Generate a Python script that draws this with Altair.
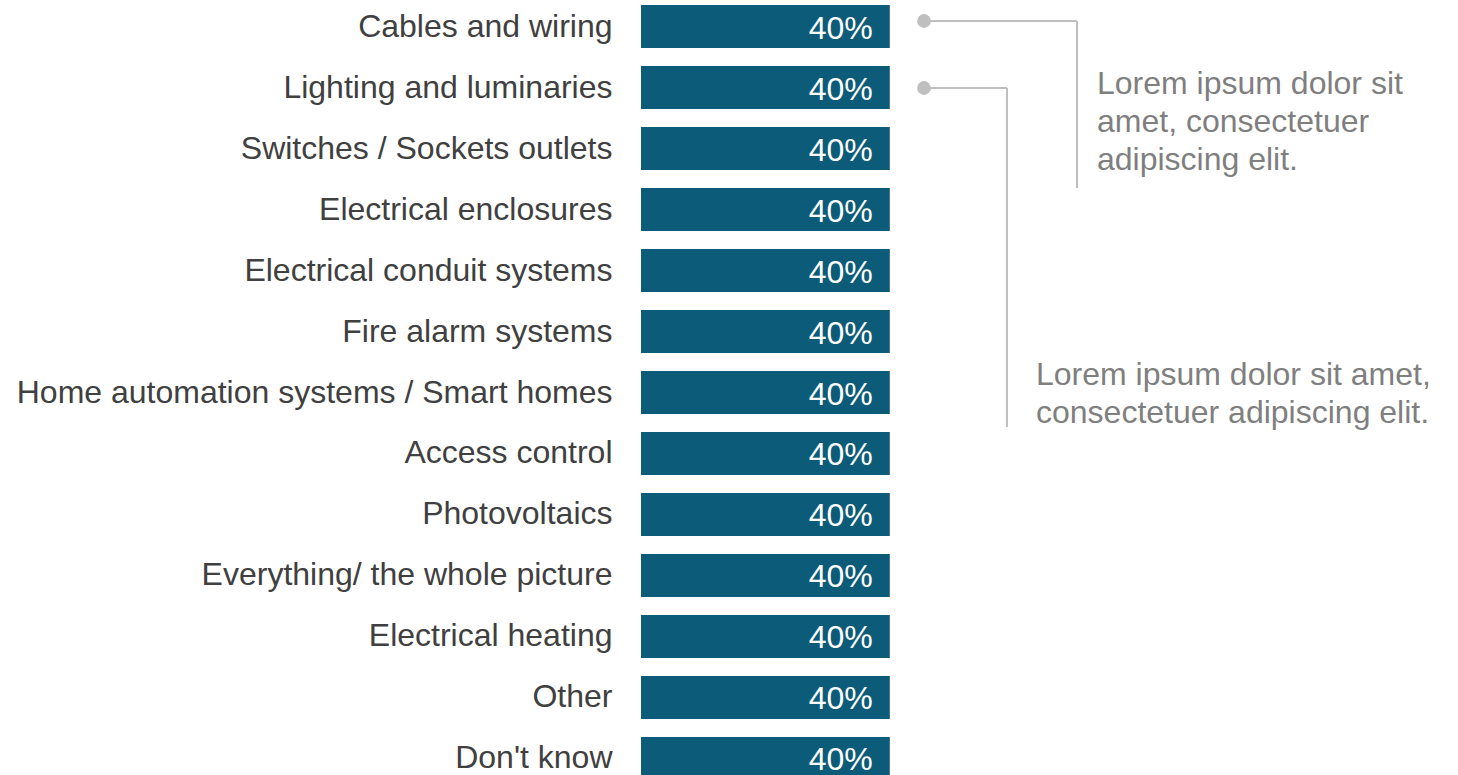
import altair as alt
import pandas as pd

categories = [
    "Cables and wiring",
    "Lighting and luminaries",
    "Switches / Sockets outlets",
    "Electrical enclosures",
    "Electrical conduit systems",
    "Fire alarm systems",
    "Home automation systems / Smart homes",
    "Access control",
    "Photovoltaics",
    "Everything/ the whole picture",
    "Electrical heating",
    "Other",
    "Don't know",
]
values = [0.40] * 13

note_1 = ["Lorem ipsum dolor sit", "amet, consectetuer", "adipiscing elit."]
note_2 = ["Lorem ipsum dolor sit amet,", "consectetuer adipiscing elit."]

df = pd.DataFrame({"category": categories, "value": values})

FONT = "Liberation Sans"
BAR = "#0C5B78"
LINE = "#BFBFBF"
NOTE = "#7F7F7F"

y_enc = alt.Y(
    "category:N",
    sort=None,
    scale=alt.Scale(range=[0, 785], paddingInner=0.295, paddingOuter=0.082),
    axis=alt.Axis(
        title=None, domain=False, ticks=False, grid=False,
        labelFont=FONT, labelFontSize=32, labelColor="#404040",
        labelPadding=29, labelLimit=0,
    ),
)
x_enc = alt.X("value:Q", scale=alt.Scale(domain=[0, 1]), axis=None)

bars = alt.Chart(df).mark_bar(color=BAR).encode(y=y_enc, x=x_enc)

labels = alt.Chart(df).mark_text(
    align="right", baseline="middle", dx=-17, dy=2,
    font=FONT, fontSize=32, color="white",
).encode(y=y_enc, x=x_enc, text=alt.Text("value:Q", format=".0%"))

one = pd.DataFrame({"k": [0]})

h1 = alt.Chart(one).mark_rule(color=LINE, strokeWidth=2).encode(
    x=alt.value(283), x2=alt.value(436), y=alt.value(21))
v1 = alt.Chart(one).mark_rule(color=LINE, strokeWidth=2).encode(
    x=alt.value(436), y=alt.value(21), y2=alt.value(188))
h2 = alt.Chart(one).mark_rule(color=LINE, strokeWidth=2).encode(
    x=alt.value(283), x2=alt.value(366), y=alt.value(88))
v2 = alt.Chart(one).mark_rule(color=LINE, strokeWidth=2).encode(
    x=alt.value(366), y=alt.value(88), y2=alt.value(427))
dot1 = alt.Chart(one).mark_circle(color=LINE, opacity=1, size=190).encode(
    x=alt.value(283), y=alt.value(21))
dot2 = alt.Chart(one).mark_circle(color=LINE, opacity=1, size=190).encode(
    x=alt.value(283), y=alt.value(88))
t1 = alt.Chart(one).mark_text(
    align="left", baseline="alphabetic", font=FONT, fontSize=32,
    color=NOTE, lineHeight=38, text=note_1,
).encode(x=alt.value(456), y=alt.value(94))
t2 = alt.Chart(one).mark_text(
    align="left", baseline="alphabetic", font=FONT, fontSize=32,
    color=NOTE, lineHeight=38, text=note_2,
).encode(x=alt.value(395), y=alt.value(385))

chart = alt.layer(bars, labels, h1, v1, h2, v2, dot1, dot2, t1, t2).properties(
    width=622, height=775,
    autosize=alt.AutoSizeParams(type="none"),
    padding={"left": 641, "top": 0, "right": 195, "bottom": 0},
).configure_view(stroke=None)

chart.save("out.html", embed_options={"renderer": "svg", "actions": False})
